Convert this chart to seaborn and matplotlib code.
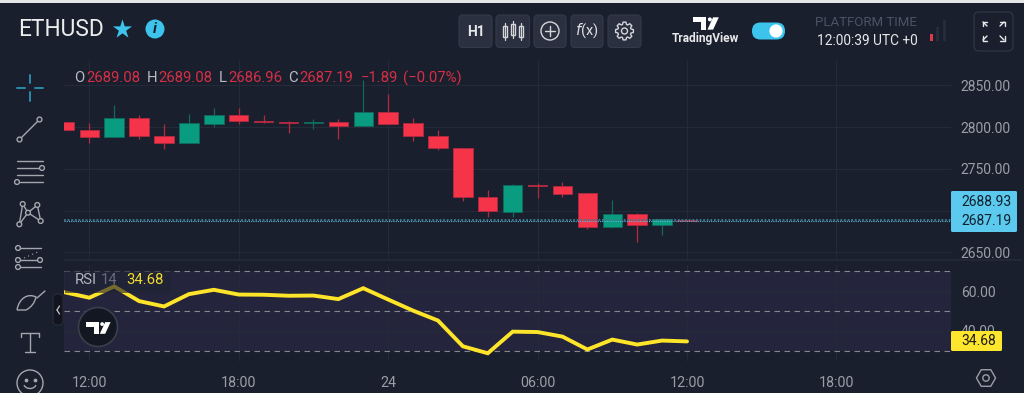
import numpy as np
import pandas as pd
import matplotlib.pyplot as plt
import seaborn as sns
from matplotlib.patches import Circle, FancyBboxPatch, Polygon, PathPatch, Rectangle
from matplotlib.path import Path

# ======================================
# STEP 1: Chart values
# ======================================

hours = list(range(-1, 25))  # hours since 12:00 on the first day

opens = [2805.7, 2797.0, 2788.2, 2811.4, 2789.8, 2781.5, 2804.2, 2814.1, 2807.5,
         2806.3, 2804.9, 2806.6, 2801.3, 2818.5, 2804.6, 2789.4, 2775.5, 2716.4,
         2698.1, 2730.8, 2729.6, 2720.5, 2680.2, 2695.7, 2682.9, 2689.08]
highs = [2805.7, 2804.9, 2826.1, 2815.0, 2803.4, 2816.2, 2823.3, 2823.3, 2815.0,
         2807.3, 2810.2, 2810.2, 2856.8, 2839.2, 2811.4, 2796.2, 2775.5, 2724.4,
         2731.6, 2733.6, 2734.3, 2721.2, 2712.5, 2696.5, 2689.4, 2689.08]
lows = [2796.8, 2781.0, 2788.2, 2785.1, 2773.4, 2781.5, 2800.1, 2803.4, 2804.9,
        2793.0, 2797.4, 2785.4, 2801.3, 2804.2, 2783.4, 2773.1, 2711.3, 2692.5,
        2692.5, 2714.9, 2716.4, 2677.4, 2679.3, 2662.6, 2670.6, 2686.96]
closes = [2796.8, 2788.2, 2811.4, 2789.0, 2781.5, 2804.6, 2814.1, 2806.9, 2806.3,
          2804.6, 2806.3, 2801.3, 2818.5, 2804.2, 2789.0, 2775.0, 2716.0, 2699.0,
          2730.8, 2728.9, 2719.6, 2680.2, 2695.7, 2682.9, 2689.4, 2687.19]
rsi = [59.5, 56.7, 62.4, 55.0, 52.3, 58.5, 60.7, 58.3, 58.2, 57.7, 57.8, 56.0, 61.5,
       55.8, 50.2, 45.2, 32.2, 28.7, 39.6, 39.4, 37.1, 30.6, 35.6, 33.1, 35.1, 34.68]

price_ticks = [2650, 2700, 2750, 2800, 2850]
price_labels = ['2650.00', '', '2750.00', '2800.00', '2850.00']  # 2700 sits under the price tag
rsi_ticks = [40, 60]
rsi_bands = [30, 50, 70]
time_ticks = [0, 6, 12, 18, 24, 30]
time_labels = ['12:00', '18:00', '24', '06:00', '12:00', '18:00']
ask_price = 2688.93
last_price = 2687.19

df = pd.DataFrame({'hour': hours, 'open': opens, 'high': highs,
                   'low': lows, 'close': closes, 'rsi': rsi})

# ======================================
# STEP 2: Figure and panes
# ======================================

BG = '#1a1f2d'
GRID = '#252a38'
TEXT = '#9b9ea6'
ICON = '#a3a6ad'
BLUE = '#3cc4ec'
RED = '#f5344a'
GREEN = '#0a9c80'
YELLOW = '#ffe52a'
W, H = 1024, 393

sns.set_theme(style='dark')
plt.rcParams['font.family'] = ['Roboto', 'DejaVu Sans']

fig = plt.figure(figsize=(W / 100, H / 100), dpi=100, facecolor=BG)


def pane(left, top, right, bottom):
    return fig.add_axes([left / W, 1 - bottom / H, (right - left) / W, (bottom - top) / H],
                        facecolor=BG)


ax = pane(64.4, 60, 951, 260)
ax_rsi = pane(64.4, 265, 951, 361)

for a in (ax, ax_rsi):
    a.set_xlim(-1, 34.6)
    a.set_xticks(time_ticks)
    a.grid(True, axis='both', color=GRID, linewidth=0.8)
    a.set_axisbelow(True)
    a.yaxis.tick_right()
    for s in a.spines.values():
        s.set_visible(False)

# ======================================
# STEP 3: Candles
# ======================================

up = df['close'] >= df['open']
for mask, body, wick in [(up, GREEN, '#0f6a5d'), (~up, RED, '#b32a3f')]:
    part = df[mask]
    ax.vlines(part['hour'], part['low'], part['high'], color=wick, linewidth=0.9, zorder=2)
    ax.bar(part['hour'], (part['close'] - part['open']).abs(),
           bottom=part[['open', 'close']].min(axis=1), width=0.78,
           color=body, edgecolor=wick, linewidth=0.6, zorder=3)

ax.axhline(ask_price, color='#41798f', linewidth=1.3, linestyle=(0, (1, 1)), zorder=4)
ax.axhline(last_price, color='#5bb4d4', linewidth=0.8, linestyle=(0, (1, 1)), zorder=4)

ax.set_ylim(2640.8, 2880.3)
ax.set_yticks(price_ticks)
ax.set_yticklabels(price_labels)
ax.tick_params(axis='x', length=0, labelbottom=False)
ax.tick_params(axis='y', length=0, pad=7, labelsize=10, labelcolor=TEXT)

# ======================================
# STEP 4: RSI pane
# ======================================

ax_rsi.axhspan(rsi_bands[0], rsi_bands[-1], color='#24253c', zorder=0, linewidth=0)
for level in rsi_bands:
    ax_rsi.axhline(level, color='#83868f', linewidth=0.8, linestyle=(0, (5, 4)), zorder=1)

sns.lineplot(data=df, x='hour', y='rsi', ax=ax_rsi, color=YELLOW, linewidth=2.8,
             zorder=3, solid_joinstyle='miter', errorbar=None)

ax_rsi.set_ylim(24.8, 73.2)
ax_rsi.set_yticks(rsi_ticks)
ax_rsi.set_yticklabels(['40.00', '60.00'])
ax_rsi.set_xticklabels(time_labels)
ax_rsi.set_xlabel('')
ax_rsi.set_ylabel('')
ax_rsi.tick_params(axis='x', length=0, pad=11, labelsize=10.3, labelcolor=TEXT)
ax_rsi.tick_params(axis='y', length=0, pad=7, labelsize=10, labelcolor=TEXT)

# ======================================
# STEP 5: Interface overlay (pixel coordinates)
# ======================================

ov = fig.add_axes([0, 0, 1, 1], facecolor='none')
ov.set_xlim(0, W)
ov.set_ylim(H, 0)
ov.axis('off')


def seg(x0, y0, x1, y1, color=ICON, lw=1.0, **kw):
    ov.plot([x0, x1], [y0, y1], color=color, linewidth=lw, solid_capstyle='round', **kw)


def ring(x, y, r=2.4, color=ICON, lw=1.0, fill=BG):
    ov.add_patch(Circle((x, y), r, facecolor=fill, edgecolor=color, linewidth=lw, zorder=5))


def rbox(x0, y0, x1, y1, fc, ec='none', rad=3, lw=0.8, **kw):
    ov.add_patch(FancyBboxPatch((x0 + rad, y0 + rad), x1 - x0 - 2 * rad, y1 - y0 - 2 * rad,
                                boxstyle=f'round,pad={rad},rounding_size={rad}',
                                facecolor=fc, edgecolor=ec, linewidth=lw, **kw))


def label(x, y, s, color=TEXT, size=10.3, ha='left', **kw):
    ov.text(x, y, s, color=color, fontsize=size, ha=ha, va='center', zorder=8, **kw)


def tv_logo(cx, cy, s=1.0, color='white'):
    ov.add_patch(Polygon([(cx - 13 * s, cy - 6 * s), (cx + 1 * s, cy - 6 * s), (cx + 1 * s, cy + 7 * s),
                          (cx - 5 * s, cy + 7 * s), (cx - 5 * s, cy - 1 * s), (cx - 13 * s, cy - 1 * s)],
                         facecolor=color, edgecolor='none', zorder=7))
    ov.add_patch(Polygon([(cx + 8 * s, cy - 6 * s), (cx + 14 * s, cy - 6 * s), (cx + 8 * s, cy + 7 * s),
                          (cx + 2 * s, cy + 7 * s)], facecolor=color, edgecolor='none', zorder=7))
    ov.add_patch(Circle((cx + 4.6 * s, cy - 3.8 * s), 2.1 * s, facecolor=color, edgecolor='none', zorder=7))


def gear(cx, cy, r_out=9.0, r_in=6.8, teeth=8, color='#d5d6d9'):
    pitch = 2 * np.pi / teeth
    pts = []
    for k in range(teeth):
        a = k * pitch
        for da, r in [(-0.30, r_in), (-0.16, r_out), (0.16, r_out), (0.30, r_in)]:
            pts.append((cx + r * np.cos(a + da), cy + r * np.sin(a + da)))
    ov.add_patch(Polygon(pts, closed=True, facecolor='none', edgecolor=color, linewidth=1, joinstyle='round'))


# top edge of the screenshot and pane separator
ov.add_patch(Rectangle((0, 0), W, 2.5, facecolor='#e4e5e7', edgecolor='none'))
seg(64, 260, 1021, 260, color='#262b39', lw=1.2)

# header
label(18, 29.5, 'ETHUSD', color='#eceded', size=16.4)
ov.scatter([122], [29], s=210, marker='*', color=BLUE, linewidths=0)
ov.add_patch(Circle((155, 29), 9.5, facecolor=BLUE, edgecolor='none'))
label(155, 29, 'i', color=BG, size=11, ha='center', fontweight='bold', fontstyle='italic')

# toolbar buttons
for x0, x1 in [(459, 492), (496, 529.5), (534, 566), (571, 603), (608, 641)]:
    rbox(x0, 15, x1, 47.5, '#2b3040', '#343a49', rad=4)
label(475.5, 31.5, 'H1', color='#e8e9ea', size=10, ha='center', fontweight='bold')
for cx, top, bot in [(505, 26, 37), (513, 24, 35), (521, 26, 37)]:
    seg(cx, top - 3, cx, bot + 3, color='#d5d6d9', lw=0.9)
    ov.add_patch(Rectangle((cx - 2.3, top), 4.6, bot - top, facecolor='none', edgecolor='#d5d6d9', linewidth=1))
ring(550, 31, 9, color='#d5d6d9', fill='none')
seg(545, 31, 555, 31, color='#d5d6d9')
seg(550, 26, 550, 36, color='#d5d6d9')
label(587, 31, r'$f$(x)', color='#e0e1e3', size=10.5, ha='center')
gear(624.5, 31)
ring(624.5, 31, 3, color='#d5d6d9', fill='none')

# TradingView switch and clock
tv_logo(705.5, 23, 0.95)
label(705.5, 38.7, 'TradingView', color='#e8e9ea', size=8.6, ha='center', fontweight='bold')
rbox(752, 22.5, 785, 39.5, BLUE, rad=8.4)
ov.add_patch(Circle((776, 31), 6.6, facecolor='white', edgecolor='none', zorder=6))
label(815, 23, 'PLATFORM TIME', color='#4b5264', size=9.5)
label(817, 40.7, '12:00:39 UTC +0', color='#e6e7e9', size=9.9)
for x0, top, c in [(929.5, 34, '#e0394c'), (936, 27, '#262b38'), (943, 20, '#262b38')]:
    ov.add_patch(Rectangle((x0, top), 3, 41 - top, facecolor=c, edgecolor='none'))
rbox(974, 12, 1013, 51, BG, '#2f3442', rad=5, lw=1)
for sx, sy in [(-1, -1), (1, -1), (-1, 1), (1, 1)]:
    cx, cy = 993.5 + 8.5 * sx, 31 + 7 * sy
    seg(cx - 2 * sx, cy - 2 * sy, cx + 2 * sx, cy + 2 * sy, color='#e8e9ea', lw=1)
    seg(cx + 2.5 * sx, cy + 2.5 * sy, cx - 2 * sx, cy + 2.5 * sy, color='#e8e9ea', lw=1)
    seg(cx + 2.5 * sx, cy + 2.5 * sy, cx + 2.5 * sx, cy - 2 * sy, color='#e8e9ea', lw=1)

# OHLC legend
DIM = '#b8bbc2'
DRED = '#d62f45'
for x, s, c in [(74, 'O', DIM), (86.5, '2689.08', DRED), (147, 'H', DIM), (158.5, '2689.08', DRED),
                (219, 'L', DIM), (228, '2686.96', DRED), (288, 'C', DIM), (299, '2687.19', DRED),
                (361, '\u22121.89', DRED), (403, '(\u22120.07%)', DRED)]:
    label(x, 78.5, s, color=c, size=10.7)

# drawing tools on the left
CROSS = '#2a8bab'
seg(30, 75, 30, 83, color=CROSS, lw=1.4)
seg(30, 92, 30, 101, color=CROSS, lw=1.4)
seg(17, 88, 25, 88, color=CROSS, lw=1.4)
seg(35, 88, 43, 88, color=CROSS, lw=1.4)

seg(19.5, 139.5, 39.5, 119.5)
ring(19.5, 139.5)
ring(39.5, 119.5)

seg(17, 161, 43, 161)
seg(17, 168, 39, 168)
ring(42, 168)
seg(17, 175, 43, 175)
seg(20, 182, 43, 182)
ring(17, 182)

pts = [(19.3, 224.3), (22.7, 204), (37.3, 205), (40.7, 221), (28, 212.7)]
for i, j in [(0, 1), (1, 4), (4, 2), (2, 3), (3, 4), (4, 0)]:
    seg(*pts[i], *pts[j])
for p in pts:
    ring(*p)

seg(20, 248, 41, 248)
seg(20, 260, 38, 260)
seg(20, 267, 41, 267)
seg(24, 258, 40, 251, lw=0.8, linestyle=(0, (1, 3)))
ring(18, 248)
ring(18, 260)
ring(40, 260)
ring(18, 267)

brush = Path([(17, 310), (19, 298), (28, 293), (36, 297), (34, 306), (26, 310), (17, 310)],
             [Path.MOVETO, Path.CURVE4, Path.CURVE4, Path.CURVE4, Path.CURVE3, Path.CURVE3, Path.LINETO])
ov.add_patch(PathPatch(brush, facecolor='none', edgecolor=ICON, linewidth=1))
seg(37, 298, 45, 291)

seg(21, 333, 39, 333)
seg(21, 333, 21, 337)
seg(39, 333, 39, 337)
seg(30, 333, 30, 352)
seg(25, 352, 35, 352)

ov.add_patch(Circle((30, 383), 13, facecolor='none', edgecolor=ICON, linewidth=1))
ov.scatter([25.5, 34.5], [380, 380], s=3, color=ICON)
t = np.linspace(0.15 * np.pi, 0.85 * np.pi, 20)
ov.plot(30 + 6.5 * np.cos(t), 383 + 5.5 * np.sin(t), color=ICON, linewidth=1)

# collapse handle and TradingView badge
rbox(53, 294, 63, 325, '#12151f', '#2a2e3a', rad=4)
seg(59.5, 306, 57, 310, color='#c5c7cc', lw=0.9)
seg(57, 310, 59.5, 314, color='#c5c7cc', lw=0.9)
ov.add_patch(Circle((98, 327), 19.5, facecolor='#131722', edgecolor='#3a3f4c', linewidth=1.2, zorder=6))
tv_logo(98, 327.5, 0.9)

# RSI header box, dims the line beneath it
ov.add_patch(Rectangle((65, 270), 106, 23, facecolor='#1f2133', alpha=0.62, edgecolor='none', zorder=4))
label(75, 280.5, 'RSI', color='#b4b7be', size=10.7)
label(101, 280.5, '14', color='#686c78', size=10.7)
label(126, 280.5, '34.68', color='#f1dc2c', size=10.7)

# price tags
rbox(951, 191, 1017, 232, '#5cc9ef', rad=1.5, zorder=6)
label(961, 202, f'{ask_price:.2f}', color='#10202c', size=10)
label(961, 221, f'{last_price:.2f}', color='#10202c', size=10)
rbox(951, 331, 1002, 351, '#ffe62e', rad=1.5, zorder=6)
label(961, 341, f'{rsi[-1]:.2f}', color='#1a1a10', size=10)

# settings hexagon on the time axis
ov.scatter([986], [378], s=190, marker='H', facecolors='none', edgecolors=TEXT, linewidths=1)
ring(986, 378, 3.2, color=TEXT, fill='none')

plt.savefig('out.png', dpi=100, facecolor=BG)
